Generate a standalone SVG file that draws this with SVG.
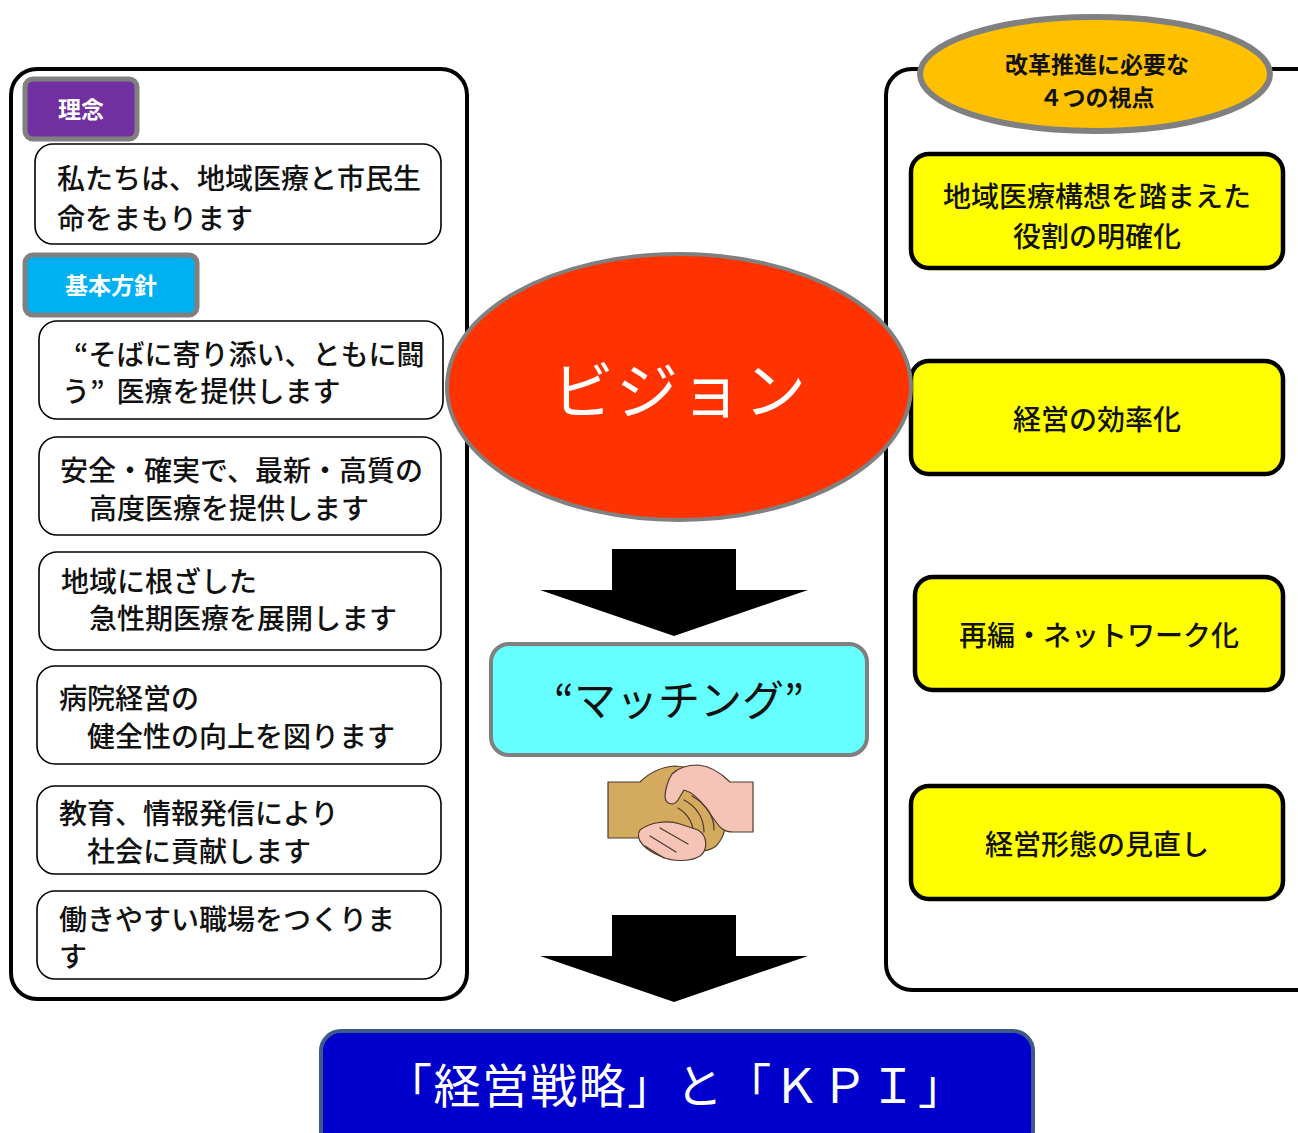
<svg xmlns="http://www.w3.org/2000/svg" width="1298" height="1133" viewBox="0 0 1298 1133">
  <style>
    text { font-family: "Noto Sans CJK JP", "Noto Sans", sans-serif; dominant-baseline: central; }
    .panel { fill: #ffffff; stroke: #000000; stroke-width: 4; }
    .item { fill: #ffffff; stroke: #000000; stroke-width: 1.6; }
    .tag { stroke: #808080; stroke-width: 5; }
    .view { fill: #ffff00; stroke: #000000; stroke-width: 4.5; }
    .t28 { font-size: 28px; font-weight: 500; fill: #111111; }
    .tag-t { font-size: 23px; font-weight: bold; fill: #ffffff; }
    .arrow { fill: #000000; }
  </style>

  <rect width="1298" height="1133" fill="#ffffff"/>

  <!-- left panel: philosophy and basic policies -->
  <g id="policy-panel">
    <rect class="panel" x="11" y="69" width="456" height="930" rx="26"/>
  </g>
  <g id="tag-rinen">
    <rect class="tag" x="25" y="79" width="112" height="60" rx="8" fill="#7030a0"/>
    <text class="tag-t" x="81" y="108" text-anchor="middle">理念</text>
  </g>
  <g id="rinen-text">
    <rect class="item" x="35" y="144" width="406" height="100" rx="18"/>
    <text class="t28" x="57" y="177">私たちは、地域医療と市民生</text>
    <text class="t28" x="57" y="217">命をまもります</text>
  </g>
  <g id="tag-houshin">
    <rect class="tag" x="25" y="255" width="172" height="60" rx="8" fill="#00b0f0"/>
    <text class="tag-t" x="111" y="284" text-anchor="middle">基本方針</text>
  </g>
  <g id="policy-1">
    <rect class="item" x="39" y="321" width="404" height="98" rx="18"/>
    <text class="t28" x="74" y="353">“そばに寄り添い、ともに闘</text>
    <text class="t28" x="62" y="390">う”<tspan dx="12">医療を提供します</tspan></text>
  </g>
  <g id="policy-2">
    <rect class="item" x="39" y="437" width="402" height="98" rx="18"/>
    <text class="t28" x="60" y="469">安全・確実で、最新・高質の</text>
    <text class="t28" x="89" y="507">高度医療を提供します</text>
  </g>
  <g id="policy-3">
    <rect class="item" x="39" y="552" width="402" height="98" rx="18"/>
    <text class="t28" x="61" y="580">地域に根ざした</text>
    <text class="t28" x="89" y="617">急性期医療を展開します</text>
  </g>
  <g id="policy-4">
    <rect class="item" x="37" y="666" width="404" height="98" rx="18"/>
    <text class="t28" x="59" y="697">病院経営の</text>
    <text class="t28" x="87" y="735">健全性の向上を図ります</text>
  </g>
  <g id="policy-5">
    <rect class="item" x="37" y="786" width="404" height="88" rx="18"/>
    <text class="t28" x="59" y="812">教育、情報発信により</text>
    <text class="t28" x="87" y="850">社会に貢献します</text>
  </g>
  <g id="policy-6">
    <rect class="item" x="37" y="891" width="404" height="88" rx="18"/>
    <text class="t28" x="59" y="918">働きやすい職場をつくりま</text>
    <text class="t28" x="59" y="955">す</text>
  </g>

  <!-- right panel: four viewpoints -->
  <g id="viewpoint-panel">
    <rect class="panel" x="886" y="69" width="440" height="921" rx="26"/>
  </g>
  <g id="viewpoint-title">
    <ellipse cx="1095" cy="74" rx="175" ry="57" fill="#ffc000" stroke="#808080" stroke-width="6"/>
    <text x="1097" y="63" text-anchor="middle" font-size="23" font-weight="bold" fill="#111">改革推進に必要な</text>
    <text x="1097" y="96" text-anchor="middle" font-size="23" font-weight="bold" fill="#111">４つの視点</text>
  </g>
  <g id="viewpoint-1">
    <rect class="view" x="911" y="154" width="372" height="114" rx="18"/>
    <text class="t28" x="1097" y="195" text-anchor="middle">地域医療構想を踏まえた</text>
    <text class="t28" x="1097" y="235" text-anchor="middle">役割の明確化</text>
  </g>
  <g id="viewpoint-2">
    <rect class="view" x="911" y="361" width="372" height="113" rx="18"/>
    <text class="t28" x="1097" y="418" text-anchor="middle">経営の効率化</text>
  </g>
  <g id="viewpoint-3">
    <rect class="view" x="915" y="577" width="368" height="113" rx="18"/>
    <text class="t28" x="1099" y="634" text-anchor="middle">再編・ネットワーク化</text>
  </g>
  <g id="viewpoint-4">
    <rect class="view" x="911" y="786" width="372" height="113" rx="18"/>
    <text class="t28" x="1097" y="843" text-anchor="middle">経営形態の見直し</text>
  </g>

  <!-- centre column -->
  <g id="vision">
    <ellipse cx="679" cy="387" rx="232" ry="133" fill="#ff3300" stroke="#808080" stroke-width="4"/>
    <text x="680" y="387" text-anchor="middle" font-size="62" fill="#ffffff" letter-spacing="2">ビジョン</text>
  </g>

  <g id="connectors">
    <path class="arrow" d="M612,549 H736 V590 H808 L674,636 L540,590 H612 Z"/>
    <path class="arrow" d="M612,915 H736 V956 H808 L674,1002 L540,956 H612 Z"/>
  </g>

  <g id="matching">
    <rect x="491" y="644" width="376" height="111" rx="18" fill="#66ffff" stroke="#808080" stroke-width="4"/>
    <text x="679" y="697" text-anchor="middle" font-size="42" fill="#111">“マッチング”</text>
  </g>

  <!-- handshake pictogram -->
  <g id="handshake" stroke="#4a3a30" stroke-width="1.2" stroke-linejoin="round" stroke-linecap="round">
    <!-- tan hand with sleeve -->
    <path d="M608,782 H640 C648,774 660,767 675,766 C688,766 698,772 706,780 L722,808 C728,820 726,836 716,846 C708,852 698,852 690,848 L672,838 H608 Z" fill="#d4aa5e"/>
    <!-- pink hand with sleeve and thumb -->
    <path d="M753,782 H730 C722,774 712,766 698,765 C688,765 678,768 672,774 C668,780 665,790 665,797 C666,805 674,806 678,800 L684,790 C692,792 700,800 706,808 L716,822 C720,828 724,832 733,832 H753 Z" fill="#f6c4b6"/>
    <!-- folded fingers of tan hand -->
    <path d="M684,800 C696,806 704,818 704,832" fill="none"/>
    <path d="M692,796 C706,804 714,816 714,830" fill="none"/>
    <path d="M678,808 C688,814 694,824 694,838" fill="none"/>
    <!-- pink fingers underneath -->
    <path d="M640,830 C650,822 668,820 680,824 L698,830 C708,836 708,850 700,856 C690,862 672,862 660,856 C646,850 634,840 640,830 Z" fill="#f6c4b6"/>
    <path d="M650,836 L676,852" fill="none"/>
    <path d="M660,828 L688,844" fill="none"/>
    <path d="M645,846 L664,858" fill="none"/>
  </g>

  <g id="strategy-kpi">
    <rect x="321" y="1031" width="712" height="120" rx="20" fill="#0000cc" stroke="#3d5a8a" stroke-width="4"/>
    <text x="385" y="1082" font-size="47" fill="#ffffff" textLength="580" lengthAdjust="spacing">「経営戦略」と「ＫＰＩ」</text>
  </g>
</svg>
